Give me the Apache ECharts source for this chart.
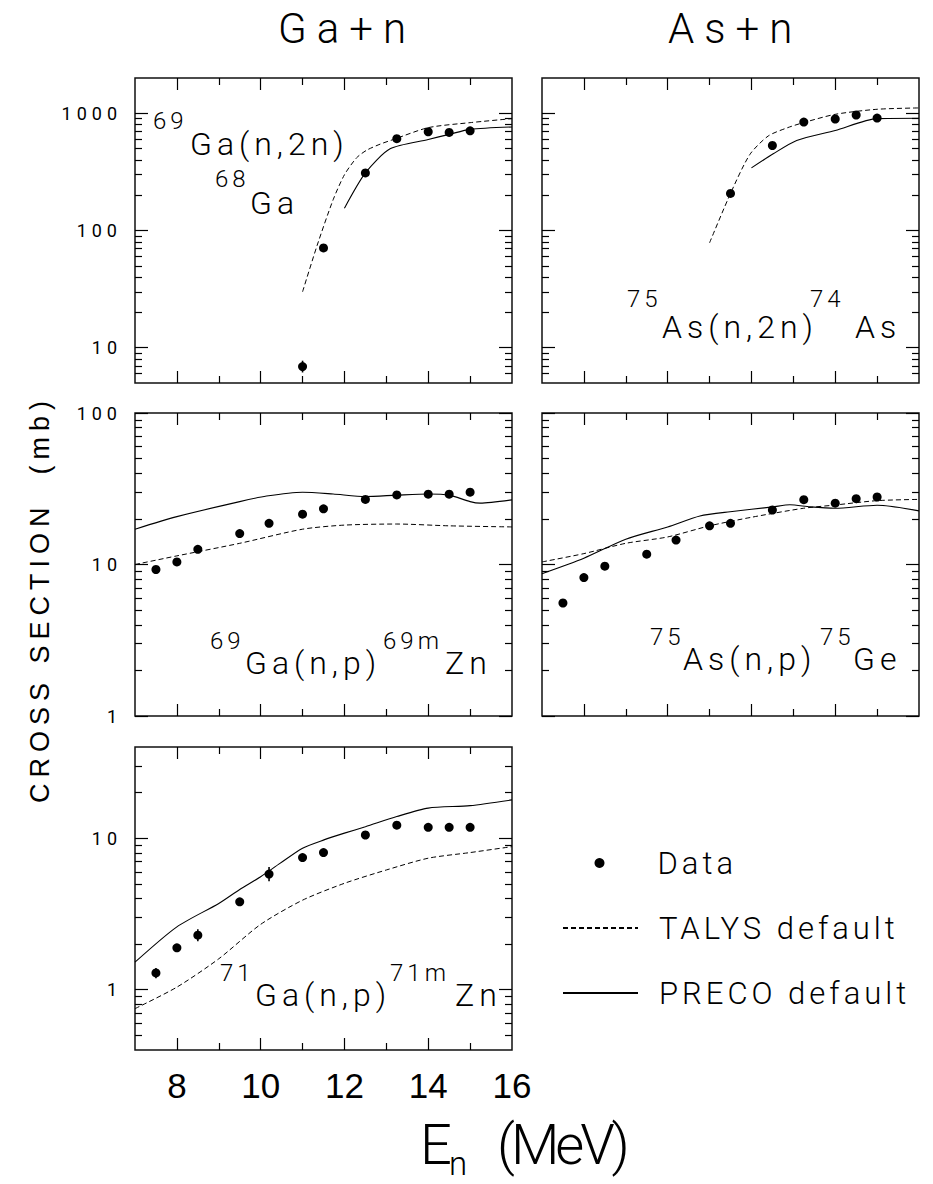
<!DOCTYPE html>
<html><head><meta charset="utf-8">
<script src="https://cdn.jsdelivr.net/npm/echarts@6/dist/echarts.min.js"></script>
<style>
html,body{margin:0;padding:0;background:#fff;}
#chart{width:933px;height:1184px;}
#chart text{white-space:pre;}
#chart text[style*="32px"]{letter-spacing:5px;}
#chart text[style*="24px"]{letter-spacing:4px;}
#chart text[style*="42px"]{letter-spacing:10px;}
#chart text[style*="31px"]{letter-spacing:4px;}
#chart text[style*="18px"]{letter-spacing:5px;}
#chart text[style*="27px"]{letter-spacing:6px;}
#chart text[style*="56px"]{letter-spacing:-4px;}
</style>
</head><body><div id="chart"></div>
<script>
// ---------- tick values ----------
const xTickLabels = [8, 10, 12, 14, 16];
const xMajorTicks = [8, 10, 12, 14];
const xMinorTicks = [9, 11, 13, 15];
const yMajorTop = [10, 100, 1000];
const yMinorTop = [6,7,8,9,20,30,40,50,60,70,80,90,200,300,400,500,600,700,800,900];
const yMajorMid = [1, 10, 100];
const yMinorMid = [2,3,4,5,6,7,8,9,20,30,40,50,60,70,80,90];
const yMajorBot = [1, 10];
const yMinorBot = [0.5,0.6,0.7,0.8,0.9,2,3,4,5,6,7,8,9,20,30];

// ---------- 69Ga(n,2n)68Ga ----------
const gaN2nE      = [11.0, 11.5, 12.5, 13.25, 14.0, 14.5, 15.0];
const gaN2nSig    = [6.9, 71, 310, 607, 696, 687, 709];
const gaN2nErr    = [[11.0, 6.15, 7.75]];
const gaN2nTalysE = [11.0, 11.35, 11.73, 12.0, 12.29, 12.53, 12.85, 13.17, 14.0, 15.0, 16.0];
const gaN2nTalys  = [30, 75, 183, 299, 417, 484, 545, 598, 754, 832, 900];
const gaN2nPrecoE = [12.0, 12.5, 13.09, 14.0, 14.5, 15.0, 16.0];
const gaN2nPreco  = [155, 310, 498, 598, 661, 729, 764];

// ---------- 75As(n,2n)74As ----------
const asN2nE      = [11.5, 12.5, 13.25, 14.0, 14.5, 15.0];
const asN2nSig    = [207, 531, 842, 894, 967, 911];
const asN2nTalysE = [11.0, 11.5, 11.96, 12.4, 12.86, 13.24, 14.0, 15.0, 16.0];
const asN2nTalys  = [78.5, 207, 444, 640, 753, 832, 980, 1082, 1111];
const asN2nPrecoE = [12.0, 12.52, 13.08, 14.0, 15.0, 16.0];
const asN2nPreco  = [342, 451, 586, 714, 900, 906];

// ---------- 69Ga(n,p)69mZn ----------
const gaNpE      = [7.5, 8.0, 8.5, 9.5, 10.2, 11.0, 11.5, 12.5, 13.25, 14.0, 14.5, 15.0];
const gaNpSig    = [9.27, 10.4, 12.6, 16.0, 18.7, 21.5, 23.3, 26.9, 28.8, 29.1, 29.1, 30.0];
const gaNpTalysE = [7.0, 8.0, 9.5, 11.0, 12.0, 13.25, 14.5, 16.0];
const gaNpTalys  = [10.0, 11.4, 13.8, 17.1, 18.2, 18.5, 18.0, 17.7];
const gaNpPrecoE = [7.0, 8.0, 9.5, 10.14, 11.0, 11.73, 12.5, 13.25, 14.0, 14.5, 15.0, 15.24, 16.0];
const gaNpPreco  = [17.1, 20.7, 26.0, 28.3, 30.0, 29.2, 28.1, 28.7, 29.2, 28.7, 26.0, 25.4, 26.7];

// ---------- 75As(n,p)75Ge ----------
const asNpE      = [7.5, 8.0, 8.5, 9.5, 10.2, 11.0, 11.5, 12.5, 13.25, 14.0, 14.5, 15.0];
const asNpSig    = [5.57, 8.2, 9.75, 11.7, 14.5, 18.0, 18.7, 22.9, 26.8, 25.4, 27.2, 27.9];
const asNpTalysE = [7.0, 8.0, 9.0, 10.0, 11.0, 12.0, 13.24, 14.0, 15.0, 16.0];
const asNpTalys  = [10.4, 11.8, 13.8, 15.2, 18.0, 20.5, 23.5, 24.7, 26.4, 26.9];
const asNpPrecoE = [7.0, 8.0, 9.0, 10.0, 10.77, 11.49, 12.51, 12.92, 13.4, 14.0, 15.0, 16.0];
const asNpPreco  = [8.7, 11.0, 14.7, 17.7, 20.9, 22.3, 24.0, 24.8, 24.0, 23.5, 24.6, 22.6];

// ---------- 71Ga(n,p)71mZn ----------
const ga71E      = [7.5, 8.0, 8.5, 9.5, 10.2, 11.0, 11.5, 12.5, 13.25, 14.0, 14.5, 15.0];
const ga71Sig    = [1.29, 1.89, 2.29, 3.8, 5.8, 7.45, 8.04, 10.5, 12.2, 11.8, 11.8, 11.8];
const ga71Err    = [[7.5, 1.19, 1.39], [8.5, 2.09, 2.51], [10.2, 5.2, 6.45]];
const ga71TalysE = [7.0, 8.0, 9.0, 10.0, 11.0, 12.0, 13.0, 14.0, 15.0, 16.0];
const ga71Talys  = [0.75, 1.04, 1.60, 2.7, 3.9, 5.04, 6.17, 7.38, 8.04, 8.8];
const ga71PrecoE = [7.0, 8.0, 9.0, 9.5, 10.0, 10.46, 11.0, 11.51, 12.0, 12.5, 13.25, 14.0, 15.0, 16.0];
const ga71Preco  = [1.52, 2.6, 3.71, 4.59, 5.57, 6.82, 8.59, 9.75, 10.8, 11.9, 13.9, 15.8, 16.4, 17.9];

const zip = (a, b) => a.map((v, i) => [v, b[i]]);

const panels = [
  {left:135, top:78,  height:305, yMin:5,   yMax:2000, maj:yMajorTop, mnr:yMinorTop, yLab:true,  xLab:false,
   d:[gaN2nE, gaN2nSig], t:[gaN2nTalysE, gaN2nTalys], p:[gaN2nPrecoE, gaN2nPreco], err:gaN2nErr},
  {left:542, top:78,  height:305, yMin:5,   yMax:2000, maj:yMajorTop, mnr:yMinorTop, yLab:false, xLab:false,
   d:[asN2nE, asN2nSig], t:[asN2nTalysE, asN2nTalys], p:[asN2nPrecoE, asN2nPreco], err:[]},
  {left:135, top:413, height:303, yMin:1,   yMax:100,  maj:yMajorMid, mnr:yMinorMid, yLab:true,  xLab:false,
   d:[gaNpE, gaNpSig], t:[gaNpTalysE, gaNpTalys], p:[gaNpPrecoE, gaNpPreco], err:[]},
  {left:542, top:413, height:303, yMin:1,   yMax:100,  maj:yMajorMid, mnr:yMinorMid, yLab:false, xLab:false,
   d:[asNpE, asNpSig], t:[asNpTalysE, asNpTalys], p:[asNpPrecoE, asNpPreco], err:[]},
  {left:135, top:747, height:303, yMin:0.4, yMax:40,   maj:yMajorBot, mnr:yMinorBot, yLab:true,  xLab:true,
   d:[ga71E, ga71Sig], t:[ga71TalysE, ga71Talys], p:[ga71PrecoE, ga71Preco], err:ga71Err}
];

const TH = '"Roboto", "Open Sans", sans-serif';
const tickLine = {color:'#000', width:1.2};
const grid = [], xAxis = [], yAxis = [], series = [];

panels.forEach((P, i) => {
  grid.push({left:P.left, top:P.top, width:377, height:P.height, show:true,
             borderColor:'#111', borderWidth:1.5, backgroundColor:'transparent'});
  const xa = (pos, ticks, len, lab) => ({
    type:'value', gridIndex:i, position:pos, min:7, max:16,
    axisLine:{show:false}, splitLine:{show:false},
    axisTick:{show:true, inside:true, length:len, customValues:ticks, lineStyle:tickLine},
    axisLabel: lab ? {show:true, customValues:xTickLabels, margin:18, fontSize:35,
                      fontFamily:'"Liberation Sans", Arial, sans-serif', color:'#000'} : {show:false}
  });
  xAxis.push(xa('bottom', xMajorTicks, 12, P.xLab), xa('bottom', xMinorTicks, 7, false),
             xa('top', xMajorTicks, 12, false), xa('top', xMinorTicks, 7, false));
  const ya = (pos, ticks, len, lab) => ({
    type:'log', logBase:10, gridIndex:i, position:pos, min:P.yMin, max:P.yMax,
    axisLine:{show:false}, splitLine:{show:false}, minorTick:{show:false},
    axisTick:{show:true, inside:true, length:len, customValues:ticks, lineStyle:tickLine},
    axisLabel: lab ? {show:true, customValues:P.maj, margin:13, fontSize:18, fontFamily:TH,
                      fontWeight:400, color:'#000', formatter:v => String(+(+v).toPrecision(6))} : {show:false}
  });
  yAxis.push(ya('left', P.maj, 13, P.yLab), ya('left', P.mnr, 7, false),
             ya('right', P.maj, 13, false), ya('right', P.mnr, 7, false));
  const ax = {xAxisIndex:4*i, yAxisIndex:4*i};
  series.push(Object.assign({type:'line', name:'TALYS default', data:zip(P.t[0], P.t[1]),
    symbol:'none', showSymbol:false, smooth:0.25,
    lineStyle:{color:'#000', width:1, type:[5,3]}, itemStyle:{color:'#000'}, silent:true}, ax));
  series.push(Object.assign({type:'line', name:'PRECO default', data:zip(P.p[0], P.p[1]),
    symbol:'none', showSymbol:false, smooth:0.25,
    lineStyle:{color:'#000', width:1.1, type:'solid'}, itemStyle:{color:'#000'}, silent:true}, ax));
  if (P.err.length) {
    series.push(Object.assign({type:'custom', data:P.err, encode:{x:0, y:[1,2]}, silent:true,
      renderItem:(params, api) => {
        const a = api.coord([api.value(0), api.value(1)]);
        const b = api.coord([api.value(0), api.value(2)]);
        return {type:'line', shape:{x1:a[0], y1:a[1], x2:b[0], y2:b[1]}, style:{stroke:'#000', lineWidth:1.6}};
      }}, ax));
  }
  series.push(Object.assign({type:'scatter', name:'Data', data:zip(P.d[0], P.d[1]),
    symbol:'circle', symbolSize:9, itemStyle:{color:'#000', opacity:1}, silent:true, z:5}, ax));
});

const legendText = {fontSize:31, fontFamily:TH, fontWeight:300, color:'#000', lineHeight:36};
const legend = [
  {left:594.5, top:845, orient:'vertical', itemWidth:10, itemHeight:10, padding:0, selectedMode:false,
   itemStyle:{color:'#000', opacity:1},
   textStyle:Object.assign({padding:[0,0,0,48]}, legendText), data:[{name:'Data', icon:'circle'}]},
  {left:562, top:910, orient:'vertical', itemWidth:75, itemHeight:14, padding:0, selectedMode:false,
   itemStyle:{opacity:0}, textStyle:Object.assign({padding:[0,0,0,16]}, legendText), data:['TALYS default']},
  {left:562, top:975, orient:'vertical', itemWidth:75, itemHeight:14, padding:0, selectedMode:false,
   itemStyle:{opacity:0}, textStyle:Object.assign({padding:[0,0,0,16]}, legendText), data:['PRECO default']}
];

function tx(text, x, y, size, extra) {
  return {type:'text', x:x, y:y, silent:true, style:Object.assign({text:text, fontSize:size, fontFamily:TH,
    fontWeight:300, fill:'#000', textAlign:'left', textVerticalAlign:'middle', align:'left', verticalAlign:'middle'}, extra || {})};
}
const S = 24, M = 32;
const graphic = [
  tx('Ga+n', 278, 28, 42), tx('As+n', 668, 28, 42),
  tx('69', 153, 121, S), tx('Ga(n,2n)', 190, 143.5, M), tx('68', 215, 179, S), tx('Ga', 250, 202.5, M),
  tx('75', 627, 299, S), tx('As(n,2n)', 662, 327, M), tx('74', 810, 299, S), tx('As', 855, 327, M),
  tx('69', 210, 640.5, S), tx('Ga(n,p)', 245, 663, M), tx('69m', 383, 640.5, S), tx('Zn', 445, 663, M),
  tx('75', 650, 637, S), tx('As(n,p)', 683, 658.5, M), tx('75', 820, 637, S), tx('Ge', 853, 658.5, M),
  tx('71', 220, 972.5, S), tx('Ga(n,p)', 255, 994.5, M), tx('71m', 390, 972.5, S), tx('Zn', 455, 995, M),
  tx('E', 420, 1145, 56), tx('n', 449, 1163, 33, {lineHeight:28}), tx('(MeV)', 497, 1145, 56),
  {type:'text', x:40, y:599, rotation:Math.PI/2, silent:true,
   style:{text:'CROSS SECTION  (mb)', fontSize:27, fontFamily:'"Liberation Sans", Arial, sans-serif',
          fontWeight:400, fill:'#000', textAlign:'center', textVerticalAlign:'middle', align:'center', verticalAlign:'middle'}}
];

const chart = echarts.init(document.getElementById('chart'), null, {renderer:'svg', width:933, height:1184});
chart.setOption({animation:false, backgroundColor:'#fff', grid, xAxis, yAxis, series, legend, graphic});
</script></body></html>
